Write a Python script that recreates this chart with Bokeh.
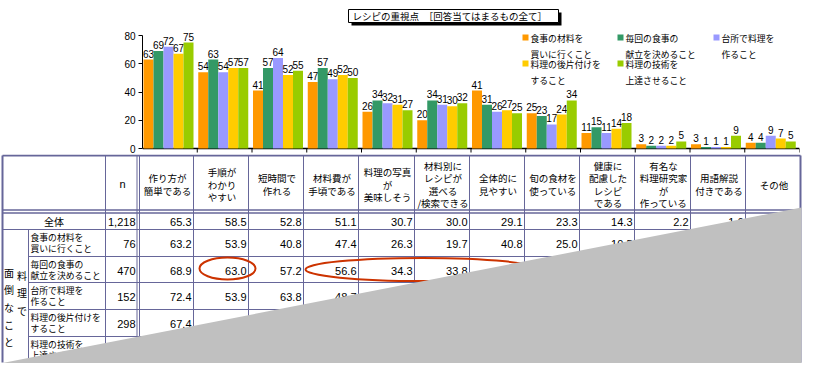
from bokeh.plotting import figure
from bokeh.models import Range1d, FixedTicker, Label
from bokeh.layouts import column
from bokeh.embed import file_html
from bokeh.resources import INLINE
from bokeh.core.properties import value

# ---------------- data ----------------
categories = ["作り方が簡単である", "手順がわかりやすい", "短時間で作れる", "材料費が手頃である",
              "料理の写真が美味しそう", "材料別にレシピが選べる/検索できる", "全体的に見やすい",
              "旬の食材を使っている", "健康に配慮したレシピである", "有名な料理研究家が作っている",
              "用語解説付きである", "その他"]
header_labels = ["作り方が\n簡単である", "手順が\nわかり\nやすい", "短時間で\n作れる", "材料費が\n手頃である",
                 "料理の写真\nが\n美味しそう", "材料別に\nレシピが\n選べる\n/検索できる", "全体的に\n見やすい",
                 "旬の食材を\n使っている", "健康に\n配慮した\nレシピ\nである", "有名な\n料理研究家\nが\n作っている",
                 "用語解説\n付きである", "その他"]
series_names = ["食事の材料を\n買いに行くこと", "毎回の食事の\n献立を決めること", "台所で料理を\n作ること",
                "料理の後片付けを\nすること", "料理の技術を\n上達させること"]
series_colors = ["#FF9900", "#339966", "#9999FF", "#FFCC00", "#99CC00"]

s_buy = [63, 54, 41, 47, 26, 20, 41, 25, 11, 3, 3, 4]
s_menu = [69, 63, 57, 57, 34, 34, 31, 23, 15, 2, 1, 4]
s_kitchen = [72, 54, 64, 49, 32, 31, 26, 17, 11, 2, 1, 9]
s_cleanup = [67, 57, 52, 52, 31, 30, 27, 24, 14, 2, 1, 7]
s_skill = [75, 57, 55, 50, 27, 32, 25, 34, 18, 5, 9, 5]
series_values = [s_buy, s_menu, s_kitchen, s_cleanup, s_skill]

y_ticks = [0, 20, 40, 60, 80]
chart_title = "レシピの重視点　［回答当てはまるもの全て］"
unit_label = "(%)"

row_labels = ["全体", "食事の材料を\n買いに行くこと", "毎回の食事の\n献立を決めること", "台所で料理を\n作ること",
              "料理の後片付けを\nすること", "料理の技術を\n上達させること"]
group_label_a = "料\n理\nで"
group_label_b = "面\n倒\nな\nこ\nと"
row_n = [1218, 76, 470, 152, 298, None]
t_total = [65.3, 58.5, 52.8, 51.1, 30.7, 30.0, 29.1, 23.3, 14.3, 2.2, 1.6, None]
t_buy = [63.2, 53.9, 40.8, 47.4, 26.3, 19.7, 40.8, 25.0, 10.5, None, None, None]
t_menu = [68.9, 63.0, 57.2, 56.6, 34.3, 33.8, 31.3, None, None, None, None, None]
t_kitchen = [72.4, 53.9, 63.8, 48.7, None, None, None, None, None, None, None, None]
t_cleanup = [67.4, 57.4, None, None, None, None, None, None, None, None, None, None]
t_skill = [None] * 12
table_rows = [t_total, t_buy, t_menu, t_kitchen, t_cleanup, t_skill]

JP = value("Noto Sans CJK JP")
LAT = value("Liberation Sans")

# ---------------- top: bar chart ----------------
W = 807
TOP_H = 154
XP0, XPU = 142.0, 54.75          # canvas px of x=0, px per category
YP0, YPU = 148.0, 113.0 / 80.0    # canvas px of y=0, px per percent


def gx(px):
    return (px - XP0) / XPU


def gy(py):
    return (YP0 - py) / YPU


top = figure(width=W, height=TOP_H, x_range=Range1d(0, 12), y_range=Range1d(gy(TOP_H), gy(0)),
             output_backend="svg", toolbar_location=None, x_axis_location=None, frame_align=False,
             min_border_left=142, min_border_right=W - 799, min_border_top=0, min_border_bottom=0)
top.outline_line_color = None
top.grid.visible = False
top.background_fill_color = "white"

ya = top.yaxis[0]
ya.ticker = FixedTicker(ticks=y_ticks)
ya.bounds = (0, 80)
ya.major_tick_out = 4
ya.major_tick_in = 0
ya.minor_tick_out = 0
ya.minor_tick_in = 0
ya.major_label_standoff = 3
ya.major_label_text_font = "Liberation Sans"
ya.major_label_text_font_size = "10px"
ya.major_label_text_color = "black"
ya.axis_line_color = "black"
ya.major_tick_line_color = "black"

# category axis baseline with boundary ticks
ncat = len(categories)
tick_len = 4 / YPU
top.segment(x0=[0], y0=[0], x1=[ncat], y1=[0], line_color="black", line_width=1.5)
top.segment(x0=list(range(1, ncat + 1)), y0=[0] * ncat, x1=list(range(1, ncat + 1)), y1=[-tick_len] * ncat,
            line_color="black", line_width=1)

bar_w = 10.0 / XPU
for k, (vals, col) in enumerate(zip(series_values, series_colors)):
    xs = [i + (6 + 10 * k) / XPU for i in range(ncat)]
    top.vbar(x=xs, top=vals, bottom=0, width=bar_w, fill_color=col, line_color=None)
    top.text(x=xs, y=vals, text=[str(v) for v in vals], text_align="center",
             text_baseline="alphabetic", y_offset=-6, text_font=LAT,
             text_font_size="10px", text_color="black")

# legend (3 columns x 2 rows)
leg_x = [525, 620, 716]
leg_y = [37, 63]
for j, (name, col) in enumerate(zip(series_names, series_colors)):
    mx, my = leg_x[j % 3], leg_y[j // 3]
    top.scatter(x=[gx(mx)], y=[gy(my)], marker="square", size=6, fill_color=col, line_color=None)
    top.text(x=[gx(mx + 5)], y=[gy(my - 5.5)], text=[name], text_align="left", text_baseline="top",
             text_font=JP, text_font_size="8.8px", text_line_height=1.22, text_color="black")

# title box with shadow
top.quad(left=[gx(351)], right=[gx(561)], top=[gy(12)], bottom=[gy(25)], fill_color="black", line_color=None)
top.quad(left=[gx(348)], right=[gx(558)], top=[gy(9)], bottom=[gy(22)], fill_color="white",
         line_color="black", line_width=1)
top.text(x=[gx(352)], y=[gy(15.5)], text=[chart_title], text_align="left", text_baseline="middle",
         text_font=JP, text_font_size="9.5px", text_color="black")

top.add_layout(Label(x=gx(130), y=gy(24.5), text=unit_label, text_align="center", text_baseline="middle",
                     text_font="Liberation Sans", text_font_size="10px", text_color="black"))

# ---------------- bottom: table ----------------
BOT_H = 226
bot = figure(width=W, height=BOT_H, x_range=Range1d(0, W), y_range=Range1d(TOP_H + BOT_H, TOP_H),
             output_backend="svg", toolbar_location=None, x_axis_location=None, y_axis_location=None,
             frame_align=False,
             min_border_left=0, min_border_right=0, min_border_top=0, min_border_bottom=0)
bot.outline_line_color = None
bot.grid.visible = False
bot.background_fill_color = "white"

GC = "#666699"
L, R, T, B = 2, 800, 155, 362
data_edges = [139, 193, 248, 303, 358, 414, 469, 524, 579, 634, 690, 745, 800]
row_edges = [211, 229, 256, 282, 309, 336, 362]

vx = [28, 105, 136.5] + data_edges[:-1]
vy0 = [229, T, T] + [T] * (len(data_edges) - 1)
bot.segment(x0=vx, y0=vy0, x1=vx, y1=[B] * len(vx), line_color=GC, line_width=1)
hy = [229, 256, 282, 309, 336]
hx0 = [L, 28, 28, 28, 28]
bot.segment(x0=hx0, y0=hy, x1=[R] * len(hy), y1=hy, line_color=GC, line_width=1)
bot.segment(x0=[L, L], y0=[209.5, 212.5], x1=[R, R], y1=[209.5, 212.5], line_color=GC, line_width=1.5)
bot.segment(x0=[L, L, R], y0=[T, T, T], x1=[R, L, R], y1=[T, B, B], line_color=GC, line_width=2)

# header texts
hx, hyy, ht = [], [], []
col_centers = [(data_edges[i] + data_edges[i + 1]) / 2 for i in range(len(data_edges) - 1)]
for cx, lab in zip(col_centers, header_labels):
    lines = lab.split("\n")
    n = len(lines)
    for i, ln in enumerate(lines):
        hx.append(cx + 1)
        hyy.append(184 + (i - (n - 1) / 2) * 12.3)
        ht.append(ln)
bot.text(x=hx, y=hyy, text=ht, text_align="center", text_baseline="middle", text_font=JP,
         text_font_size="9.5px", text_color="black")
bot.text(x=[122], y=[183], text=["n"], text_align="center", text_baseline="middle", text_font=LAT,
         text_font_size="11px", text_color="black")

# row labels
row_centers = [(row_edges[i] + row_edges[i + 1]) / 2 for i in range(len(row_edges) - 1)]
bot.text(x=[53.5], y=[row_centers[0] + 1], text=[row_labels[0]], text_align="center", text_baseline="middle",
         text_font=JP, text_font_size="10px", text_color="black")
rx, ry, rt = [], [], []
for cy, lab in zip(row_centers[1:], row_labels[1:]):
    lines = lab.split("\n")
    for i, ln in enumerate(lines):
        rx.append(30)
        ry.append(cy - 5.5 + 11 * i)
        rt.append(ln)
bot.text(x=rx, y=ry, text=rt, text_align="left", text_baseline="middle", text_font=JP,
         text_font_size="8.8px", text_color="black")
bot.text(x=[21.5], y=[267.5], text=[group_label_a], text_align="center", text_baseline="top", text_font=JP,
         text_font_size="10px", text_line_height=1.15, text_color="black")
bot.text(x=[8.5], y=[264.5], text=[group_label_b], text_align="center", text_baseline="top", text_font=JP,
         text_font_size="10px", text_line_height=1.15, text_color="black")

# numbers
nx, ny, nt = [], [], []
for cy, nv in zip(row_centers, row_n):
    if nv is not None:
        nx.append(135)
        ny.append(cy + 1)
        nt.append("{:,}".format(nv))
for cy, vals in zip(row_centers, table_rows):
    for i, v in enumerate(vals):
        if v is not None:
            nx.append(data_edges[i + 1] - 2)
            ny.append(cy + 1)
            nt.append("{:.1f}".format(v))
bot.text(x=nx, y=ny, text=nt, text_align="right", text_baseline="middle", text_font=LAT,
         text_font_size="11px", text_color="black")

# red highlight ellipses
bot.ellipse(x=[227, 422], y=[268, 269], width=[56, 234], height=[22, 23], fill_color=None,
            line_color="#CC3300", line_width=2)

# grey page-curl overlay
bot.patch(x=[2, 801, 801], y=[362.5, 207, 362.5], fill_color="#C0C0C0", line_color=None)

layout = column(top, bot, spacing=0)
open("out.html", "w").write(file_html(layout, INLINE))
